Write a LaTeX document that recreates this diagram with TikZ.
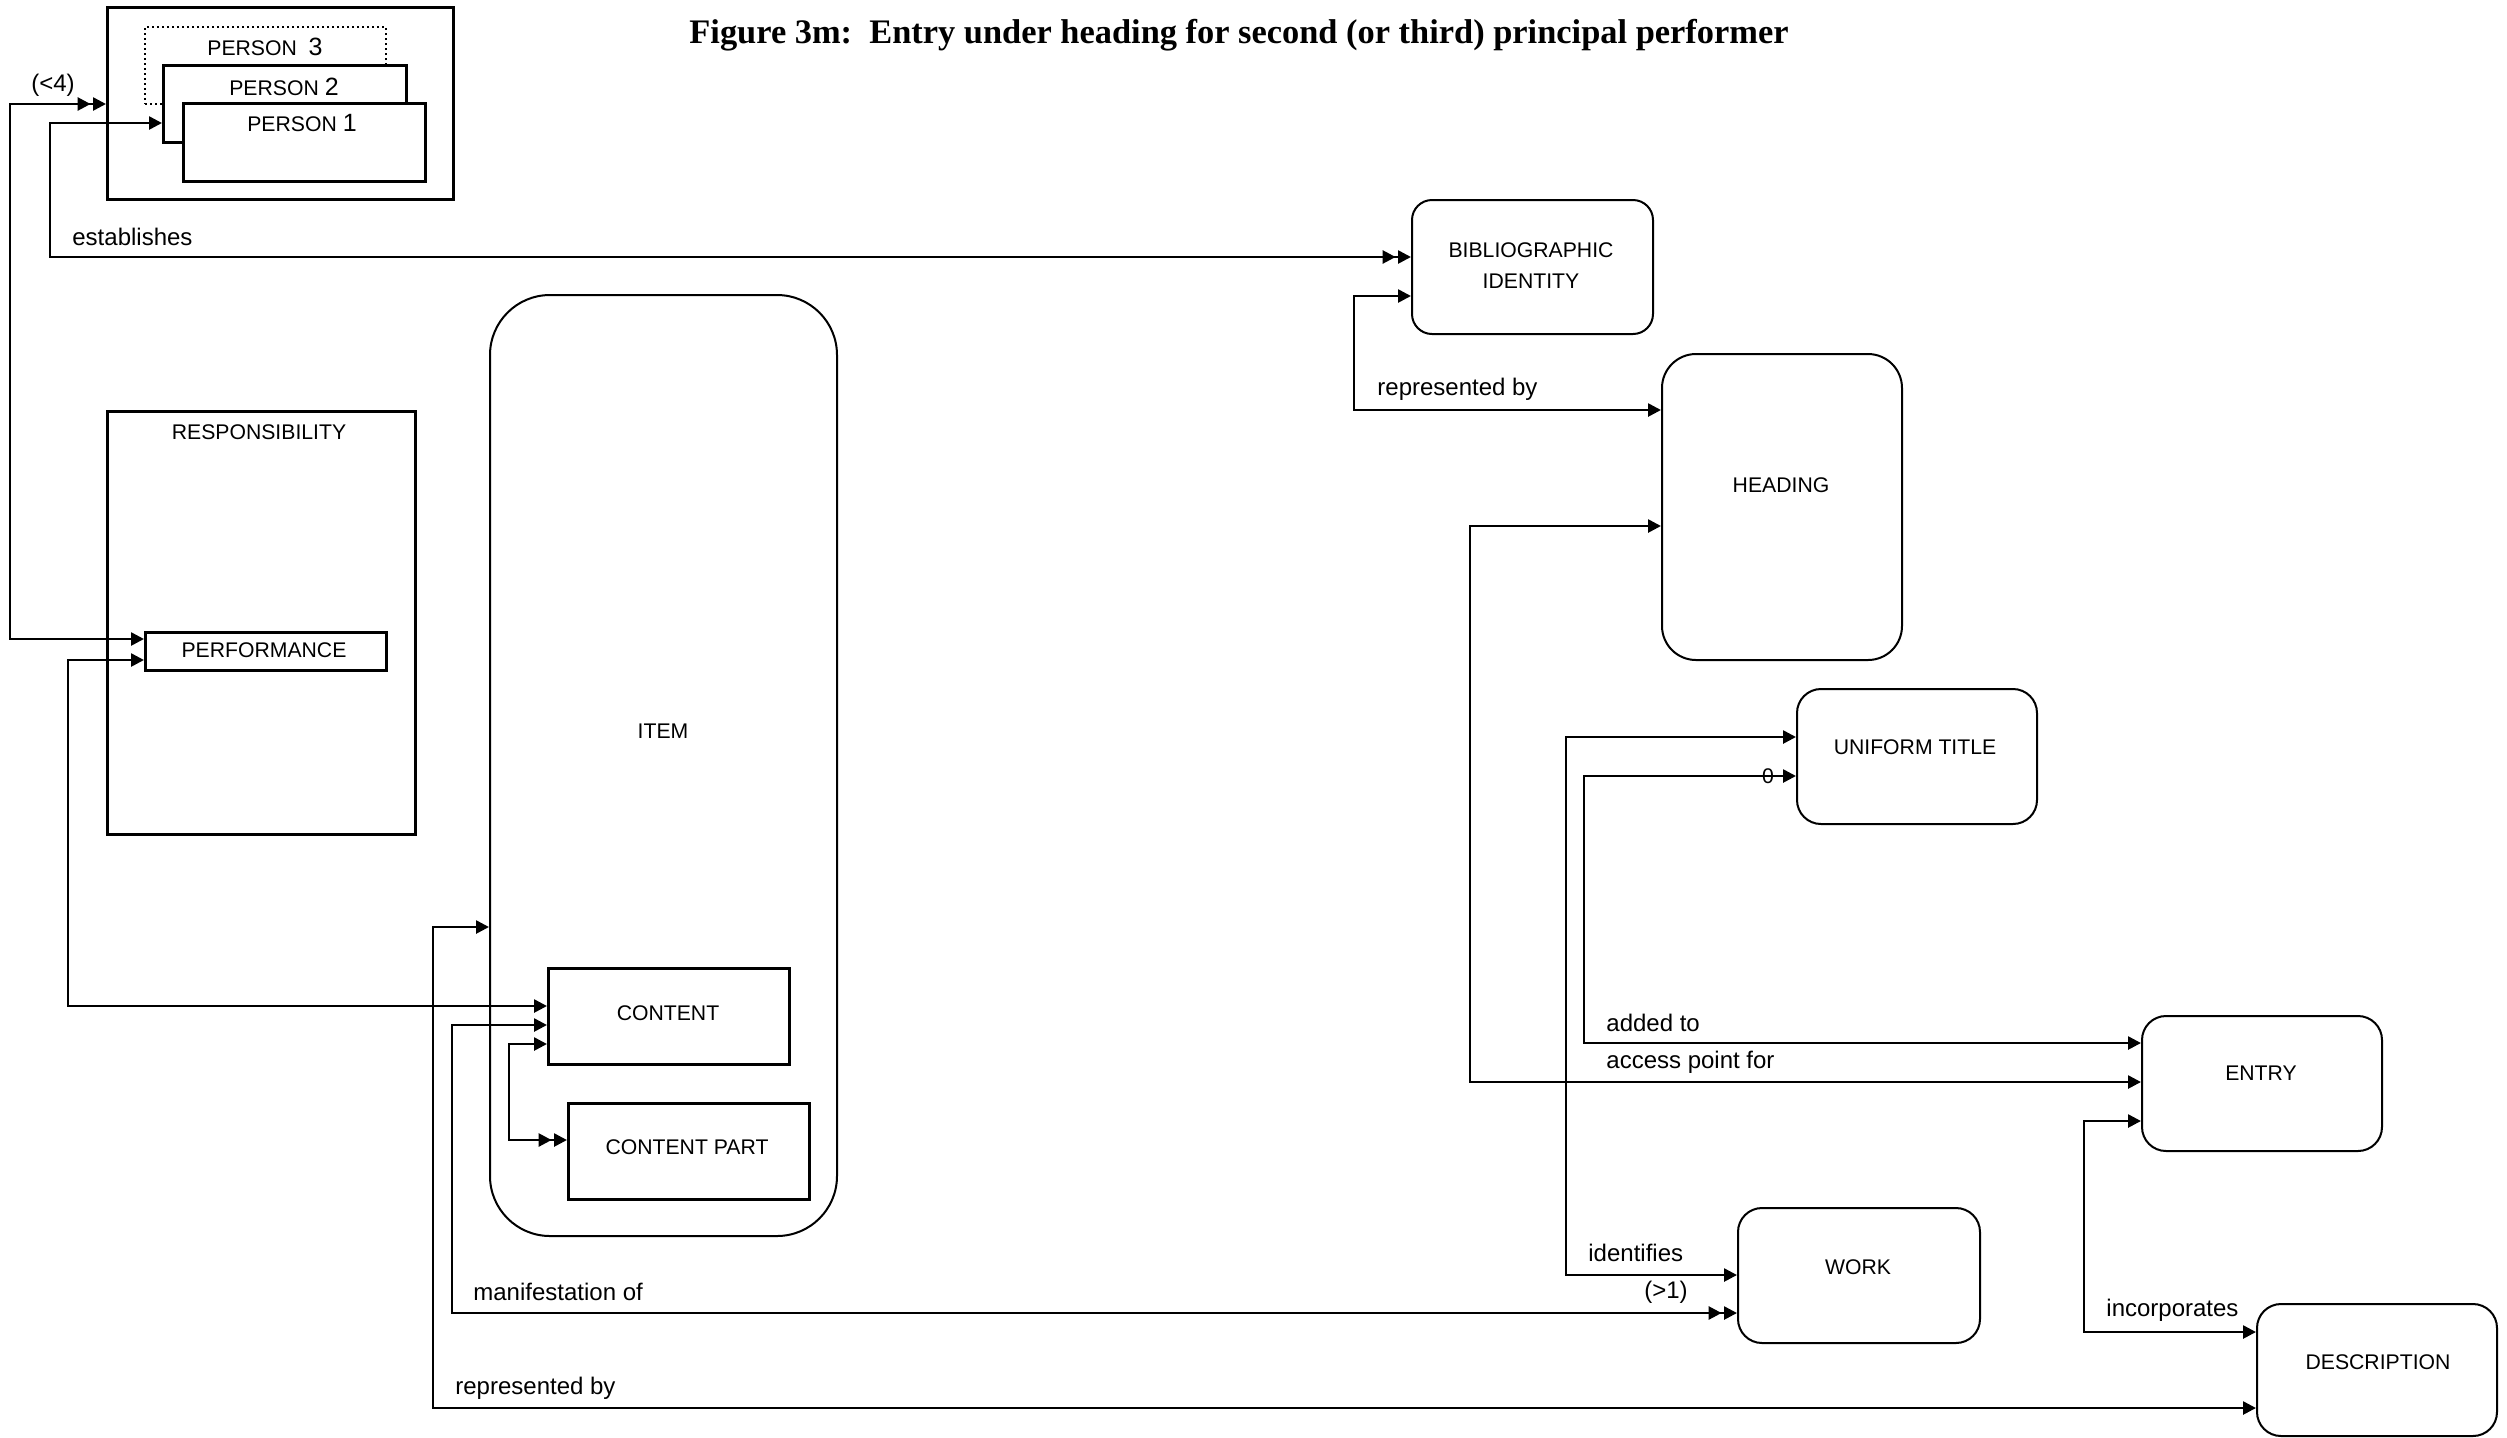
\documentclass[tikz,border=0pt]{standalone}
\usepackage{fontspec}
\setmainfont{Liberation Sans}
\newfontfamily\titlefont{Liberation Serif}
\usetikzlibrary{arrows.meta}
\begin{document}
\begin{tikzpicture}[x=0.5pt,y=-0.5pt,
  bx/.style={draw, line width=1.3pt, inner sep=0pt, anchor=north west},
  rbx/.style={draw, line width=1pt, inner sep=0pt, anchor=north west, rounded corners=#1},
  nt/.style={inner sep=0pt, font=\fontsize{10.6}{15.5}\selectfont},
  lb/.style={inner sep=0pt, anchor=west, font=\fontsize{12}{14}\selectfont},
  lk/.style={line width=1.3pt},
  ab/.style={{Triangle[length=6.5pt,width=6.5pt]}-{Triangle[length=6.5pt,width=6.5pt]}},
  abd/.style={{Triangle[length=6.5pt,width=6.5pt]}-{Triangle[length=6.5pt,width=6.5pt,sep=1.2pt]Triangle[length=6.5pt,width=6.5pt]}}
]
\useasboundingbox (0,0) rectangle (2507,1437);

% title
\node[inner sep=0pt, font=\titlefont\bfseries\fontsize{17.2}{20}\selectfont] (title) at (1239,35)
  {Figure 3m:\ \ Entry under heading for second (or third) principal performer};

% person group
\node[bx, minimum width=173pt, minimum height=96pt] (people) at (106,6) {};
\node[draw, line width=1pt, dash pattern=on 1pt off 1.5pt, inner sep=0pt, anchor=north west,
      minimum width=120.5pt, minimum height=38.5pt] (p3) at (144,26) {};
\node[bx, fill=white, minimum width=121.5pt, minimum height=38.5pt] (p2) at (162,64) {};
\node[bx, fill=white, minimum width=121pt, minimum height=39pt] (p1) at (182,102) {};
\node[nt] (t-p3) at (265,47) {PERSON\ \ {\fontsize{12.5}{14}\selectfont 3}};
\node[nt] (t-p2) at (284,87) {PERSON {\fontsize{12.5}{14}\selectfont 2}};
\node[nt] (t-p1) at (302,123) {PERSON {\fontsize{12.5}{14}\selectfont 1}};

% responsibility
\node[bx, minimum width=154pt, minimum height=211.5pt] (resp) at (106,410) {};
\node[nt] (t-resp) at (259,432) {RESPONSIBILITY};
\node[bx, minimum width=120.5pt, minimum height=19pt] (perf) at (144,631) {};
\node[nt] (t-perf) at (264,650) {PERFORMANCE};

% item
\node[rbx=30pt, minimum width=173.5pt, minimum height=470.5pt] (item) at (489,294) {};
\node[nt] (t-item) at (663,731) {ITEM};
\node[bx, minimum width=120.5pt, minimum height=48pt] (content) at (547,967) {};
\node[nt] (t-content) at (668,1013) {CONTENT};
\node[bx, minimum width=120.5pt, minimum height=48pt] (cpart) at (567,1102) {};
\node[nt] (t-cpart) at (687,1147) {CONTENT PART};

% right side entities
\node[rbx=10pt, minimum width=120.5pt, minimum height=67pt] (bi) at (1411,199) {};
\node[nt, align=center] (t-bi) at (1531,266) {BIBLIOGRAPHIC\\IDENTITY};
\node[rbx=17pt, minimum width=120pt, minimum height=153pt] (heading) at (1661,353) {};
\node[nt] (t-heading) at (1781,485) {HEADING};
\node[rbx=12pt, minimum width=120pt, minimum height=67.5pt] (ut) at (1796,688) {};
\node[nt] (t-ut) at (1915,747) {UNIFORM TITLE};
\node[rbx=12pt, minimum width=121pt, minimum height=67.5pt] (work) at (1737,1207) {};
\node[nt] (t-work) at (1858,1267) {WORK};
\node[rbx=12pt, minimum width=120pt, minimum height=67.5pt] (entry) at (2141,1015) {};
\node[nt] (t-entry) at (2261,1073) {ENTRY};
\node[rbx=12pt, minimum width=120pt, minimum height=66pt] (desc) at (2256,1303) {};
\node[nt] (t-desc) at (2378,1362) {DESCRIPTION};

% connectors
\draw[lk, abd] (perf.west |- 0,639) -| (10,104) -- (people.west |- 0,104);
\draw[lk, abd] (p2.west |- 0,123) -| (50,257) -- (bi.west |- 0,257);
\draw[lk, ab] (perf.west |- 0,660) -| (68,1006) -- (content.west |- 0,1006);
\draw[lk, ab] (item.west |- 0,927) -| (433,1408) -- (desc.west |- 0,1408);
\draw[lk, abd] (content.west |- 0,1025) -| (452,1313) -- (work.west |- 0,1313);
\draw[lk, abd] (content.west |- 0,1044) -| (509,1140) -- (cpart.west |- 0,1140);
\draw[lk, ab] (bi.west |- 0,296) -| (1354,410) -- (heading.west |- 0,410);
\draw[lk, ab] (heading.west |- 0,526) -| (1470,1082) -- (entry.west |- 0,1082);
\draw[lk, ab] (ut.west |- 0,737) -| (1566,1275) -- (work.west |- 0,1275);
\draw[lk, ab] (ut.west |- 0,776) -| (1584,1043) -- (entry.west |- 0,1043);
\draw[lk, ab] (entry.west |- 0,1121) -| (2084,1332) -- (desc.west |- 0,1332);

% labels
\node[lb, anchor=center] (l-lt4) at (53,85) {(<4)};
\node[lb] (l-est) at (72,237) {establishes};
\node[lb] (l-rep1) at (1377,389) {represented by};
\node[lb] (l-added) at (1606,1023) {added to};
\node[lb] (l-access) at (1606,1062) {access point for};
\node[lb] (l-ident) at (1588,1253) {identifies};
\node[lb, anchor=center] (l-gt1) at (1666,1292) {(>1)};
\node[lb] (l-manif) at (473,1292) {manifestation of};
\node[lb] (l-rep2) at (455,1388) {represented by};
\node[lb] (l-incorp) at (2106,1310) {incorporates};
\node[nt] (l-zero) at (1768,776) {0};
\end{tikzpicture}
\end{document}
